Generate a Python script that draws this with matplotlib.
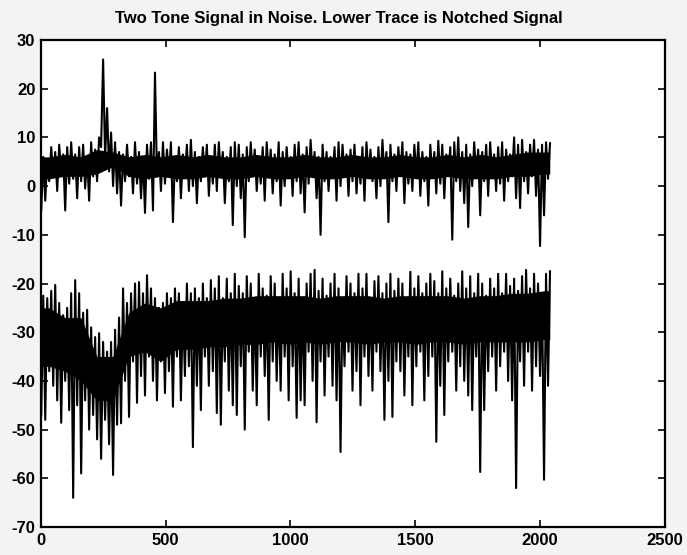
import numpy as np
import matplotlib
matplotlib.use("Agg")
import matplotlib.pyplot as plt

plt.rcParams["axes.unicode_minus"] = False

# ---- data (per 16-sample bin: local high / low) ----
title = "Two Tone Signal in Noise. Lower Trace is Notched Signal"
n_samples = 2048
bin_size = 16
core_step = 64

upper_hi = [6, 5.5, 8, 7, 8.5, 6.5, 8, 9, 6.5, 8,
            8.5, 6, 9, 7.5, 10, 26, 16, 11, 9, 7,
            6.5, 8.5, 6, 9, 7, 6, 8.5, 9, 23.3, 7,
            9, 7.5, 9, 6, 8, 6.5, 8.5, 9.5, 7, 6,
            8, 8.5, 6, 8.5, 9, 7, 6, 8, 9, 8.5,
            6.5, 8, 9, 7.5, 6, 8, 9, 7.5, 6.5, 9,
            7, 8, 6, 8.5, 9, 6.5, 8, 9.5, 7, 6,
            8.5, 7, 6, 8, 9, 8.5, 6.5, 7.5, 8.5, 6,
            8, 9, 7.5, 6, 8, 9.5, 7, 8.5, 6.5, 8,
            9, 7, 6.5, 8.5, 9, 7, 6, 8.5, 7, 9.3,
            8.5, 6.5, 8, 9, 10, 7, 8.5, 6.5, 9, 7.5,
            7, 8.5, 9, 6.5, 8, 9, 7.5, 6.5, 10, 8.5,
            9.5, 7, 8.5, 9.5, 7.5, 8.5, 9, 8.8]
upper_lo = [-5, -3, 1, 2, -1, 2.5, -5, 0.5, 1.5, -2.5,
            1, -0.5, -3, 2, 1, 8, 6, 3, 0, -1.5,
            -4, 1, 2, -1.5, 0.5, -2.5, -5.5, 1.5, -5, 2,
            -1, 0.5, 2, -7.4, 1, -2.5, 2, -1, 0, -3.5,
            1, 2, -2, 0.5, -1, 2, -3.5, 1, -8, 0,
            -2.5, -10.5, 1, 2, -1, 0.5, -3, 2, -1.5, 1,
            -4, 0, 2, -2, 1, -1.5, -5.4, 0.5, 2, -2.5,
            -10, 1, -1, 2, -3, 0, 2, -2, 1, -1.5,
            0.5, -3, 2, 1, -2.5, 0, 2, -7.4, 1, -1,
            2, -3.5, 0.5, -1, 2, -2, 1, -4, 2, -1.5,
            0.5, -2.5, 2, -11, 1, -1, -3.5, -8.4, 0, 2,
            -6, 1, -2, 2, -1, 0.5, -3, 1, 2, -2.5,
            -4.5, 1, -1.5, 2, -2, -12.3, -6, 1.5]
upper_core_top = [6, 6.5, 6, 7.5, 7, 6, 6.5, 6, 6.5, 6, 6.5, 6, 6, 6.5, 6, 6,
                  6.5, 6, 6, 6.5, 6, 6, 6.5, 6, 6, 6.5, 6, 6.5, 6, 6.5, 7, 7]
upper_core_bot = [1.5, 2, 2, 2.5, 4, 2, 1.5, 2, 1.5, 1.5, 2, 1.5, 1.5, 2, 1.5, 1.5,
                  2, 1.5, 1.5, 2, 1.5, 1.5, 2, 1.5, 1.5, 2, 1.5, 1.5, 1.5, 2, 2, 2.5]

lower_hi = [-22.5, -23, -21.5, -20.3, -24, -26.5, -25, -22, -19.3, -22,
            -26, -25.4, -29, -31, -30.2, -32, -34, -32, -29.5, -27,
            -21, -24, -22, -20, -19.7, -22, -18.3, -21, -23, -25,
            -24, -22, -23, -21, -22, -24, -20, -22, -21, -23,
            -20, -23, -19.3, -21, -18.5, -23, -19, -22, -18, -20.5,
            -22, -18.5, -20, -23, -18, -21, -22.5, -18.5, -20, -23,
            -18, -21, -17.5, -22, -19, -23, -20, -18, -17.2, -21.5,
            -19, -22.5, -20, -18, -21, -23, -18.5, -20, -22, -18,
            -21, -18, -23, -19.5, -18.5, -22, -20, -18, -21.5, -19,
            -20, -23, -17.6, -21, -18.5, -22, -20, -18, -19.5, -22,
            -17.5, -21, -19, -22.5, -20, -17.5, -21, -18.5, -22, -18,
            -20, -22.5, -19, -21, -18, -22, -18, -20.5, -19, -21.5,
            -18.5, -17.2, -21, -18, -20, -22, -18, -17.5]
lower_lo = [-47, -48, -38, -41, -44, -48.6, -40, -46, -64, -45,
            -59, -44, -50, -47, -52, -56, -48, -53, -59.3, -49,
            -48.7, -40, -47.4, -36, -44.5, -39, -43, -35, -40, -44,
            -36, -42.5, -38, -45.3, -35, -44, -39, -37, -53.6, -41,
            -46, -35, -41, -38, -46.6, -49, -36, -42, -45, -47,
            -37, -50, -34, -42, -45, -35, -39, -48, -36, -40,
            -42, -35, -44, -37, -47.6, -44, -45, -34, -40, -48.5,
            -36, -43, -35, -41, -44, -54.6, -37, -34, -42, -38,
            -45, -35, -39, -42, -34, -38, -48, -40, -47.4, -36,
            -38, -43, -35, -45, -37, -34, -44, -39, -35, -52.5,
            -41, -47, -36, -34, -42, -37, -40, -43, -46, -35,
            -58.7, -46, -38, -35, -42, -37, -34, -40, -44, -62,
            -36, -41, -34, -42, -37, -39, -60.3, -41]
lower_core_top = [-25, -27, -27, -35, -35, -26, -24, -25, -23.5, -23.5, -23.5, -23,
                  -23, -22.5, -22.5, -22.5, -22.5, -23, -22.5, -22.5, -22.5, -23, -22.5, -22.5,
                  -22.5, -22.5, -23, -22.5, -22.5, -22, -22, -21.5]
lower_core_bot = [-37, -38, -40, -44, -44, -35, -34, -36, -33.5, -33.5, -33, -33,
                  -32.5, -32.5, -32, -32.5, -32, -32.5, -32, -32, -32.5, -32, -32, -32.5,
                  -32, -32, -32.5, -32, -32, -32, -32, -31.5]

xticks = [0, 500, 1000, 1500, 2000, 2500]
yticks = [-70, -60, -50, -40, -30, -20, -10, 0, 10, 20, 30]

# ---- figure ----
fig = plt.figure(figsize=(6.87, 5.55), dpi=100, facecolor="#f3f3f3")
ax = fig.add_axes([41 / 687, 28 / 555, (664.5 - 41) / 687, (527 - 40) / 555])
ax.set_facecolor("white")

def trace(hi, lo, ctop, cbot):
    nb = len(hi)
    xs = []
    ys = []
    for i in range(nb):
        xs += [bin_size * i + 1, bin_size * i + 9]
        ys += [lo[i], hi[i]]
    nc = len(ctop)
    xc = [min(core_step * k + core_step / 2, n_samples) for k in range(nc)]
    xc = [1] + xc + [n_samples - 8]
    ct = [ctop[0]] + list(ctop) + [ctop[-1]]
    cb = [cbot[0]] + list(cbot) + [cbot[-1]]
    ax.fill_between(xc, cb, ct, color="black", linewidth=0)
    ax.plot(xs, ys, color="black", linewidth=1.5)

trace(upper_hi, upper_lo, upper_core_top, upper_core_bot)
trace(lower_hi, lower_lo, lower_core_top, lower_core_bot)

ax.set_xlim(0, 2500)
ax.set_ylim(-70, 30)
ax.set_xticks(xticks)
ax.set_yticks(yticks)
ax.tick_params(direction="in", length=5, width=1.2, top=True, right=True,
               labelsize=12, pad=4)
for lab in ax.get_xticklabels() + ax.get_yticklabels():
    lab.set_fontfamily("Liberation Sans")
    lab.set_fontweight("bold")
for s in ax.spines.values():
    s.set_linewidth(1.6)
ax.set_title(title, fontsize=12, fontfamily="Liberation Sans",
             fontweight="bold", pad=12, x=0.478)

fig.savefig("out.png", dpi=100, facecolor=fig.get_facecolor())
